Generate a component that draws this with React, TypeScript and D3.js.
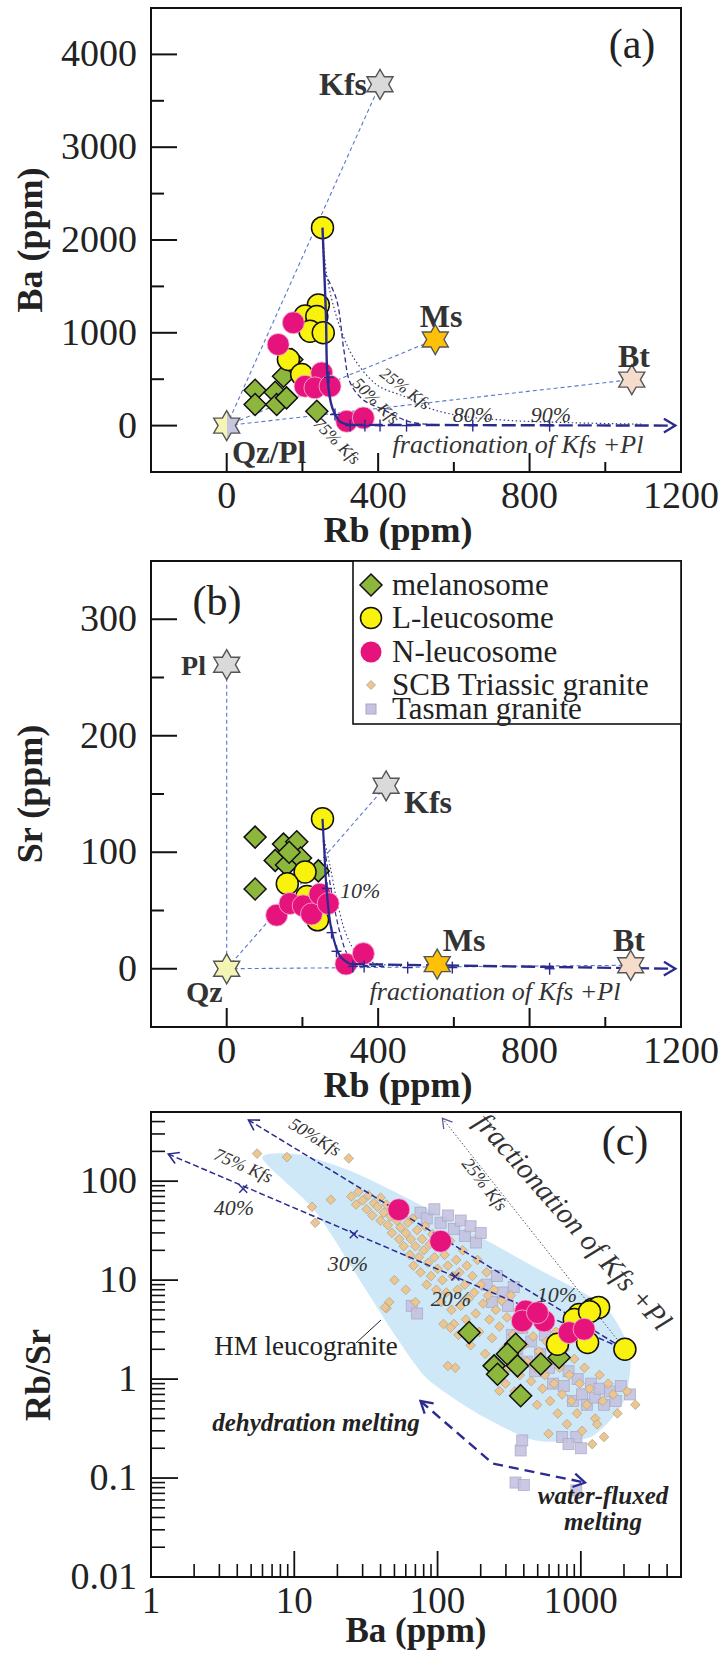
import React from "react";
import * as d3 from "d3";

type P = [number, number];

const W = 724;
const H = 1653;
const LEFT = 151;
const RIGHT = 681;
const NAVY = "#2b2b8f";
const THIN = "#5a78c8";
const SERIF = '"Liberation Serif", "DejaVu Serif", "Times New Roman", Times, serif';

// ---- shared Rb axis (panels a, b)
const rbDomain = [-200, 1200];
const rbMajor = [0, 400, 800, 1200];
const rbMinor = [200, 600, 1000];

// ---- panel (a): Ba vs Rb
const baDomain = [-500, 4500];
const baMajor = [0, 1000, 2000, 3000, 4000];
const baMinor = [500, 1500, 2500, 3500];
const aMelanosome: P[] = [[75, 381], [75, 227], [128, 359], [132, 227], [150, 532], [158, 299], [172, 712], [238, 154]];
const aLLeucosome: P[] = [[253, 2133], [242, 1300], [207, 1180], [238, 1175], [220, 1017], [255, 1000], [163, 712], [198, 550]];
const aNLeucosome: P[] = [[176, 1108], [136, 874], [251, 568], [207, 424], [233, 407], [273, 424], [317, 46], [361, 83]];
const aKfs: P = [405, 3678];
const aMs: P = [551, 928];
const aBt: P = [1070, 496];
const aQzPl: P = [0, 0];
const aTrend: P[] = [[253, 2133], [262, 1200], [266, 530], [275, 250], [284, 140], [300, 40], [325, 8]];
const aTrendTail: P[] = [[325, 8], [1185, 0]];
const aCurve50: P[] = [[258, 1650], [290, 1360], [310, 800], [326, 464], [360, 280], [413, 173], [484, 40], [560, 10]];
const aCurve25: P[] = [[253, 2133], [265, 1600], [300, 1050], [340, 700], [400, 430], [468, 316], [540, 180], [627, 100], [750, 55], [920, 30], [1100, 15]];
const aPlus: P[] = [[270, 520], [286, 119], [326, 0], [365, 0], [405, 0], [475, 0], [650, 0], [853, 0]];

// ---- panel (b): Sr vs Rb
const srDomain = [-50, 350];
const srMajor = [0, 100, 200, 300];
const srMinor = [50, 150, 250];
const bMelanosome: P[] = [[75, 113], [75, 68.5], [128, 93], [150, 107], [185, 109], [158, 89], [195, 95], [242, 84], [165, 100]];
const bLLeucosome: P[] = [[253, 128.7], [207, 83], [160, 73], [212, 62], [240, 42]];
const bNLeucosome: P[] = [[132, 46], [167, 56], [202, 54], [224, 47], [246, 64], [268, 56], [315, 4], [361, 13]];
const bPl: P = [0, 261];
const bKfs: P = [421, 157];
const bMs: P = [556, 4];
const bBt: P = [1067, 3];
const bQz: P = [0, 0];
const bTrend: P[] = [[253, 128.7], [258, 100], [264, 67], [277, 33], [299, 11], [326, 4]];
const bTrendTail: P[] = [[326, 4], [1185, 0]];
const bCurve50: P[] = [[255, 110], [265, 90], [280, 60], [300, 30], [320, 12], [350, 4], [420, 2]];
const bCurve25: P[] = [[258, 110], [272, 90], [290, 60], [315, 30], [340, 15], [380, 6], [460, 2]];
const bPlus: P[] = [[265, 69], [277, 31], [290, 15], [333, 2], [363, 2], [478, 1], [596, 1], [853, 0]];

// ---- panel (c): Rb/Sr vs Ba (log-log)
const cBaDomain = [1, 5000];
const cRatioDomain = [0.01, 500];
const cXMajor = [1, 10, 100, 1000];
const cYMajor = [0.01, 0.1, 1, 10, 100];
const cXLabels = ["1", "10", "100", "1000"];
const cYLabels = ["0.01", "0.1", "1", "10", "100"];
const cMelanosome: P[] = [[166, 2.95], [351, 2.25], [307, 1.79], [248, 1.36], [262, 1.12], [361, 1.36], [525, 1.42], [705, 1.65], [380, 0.68]];
const cLLeucosome: P[] = [[2030, 2.0], [973, 4.5], [1207, 5.07], [1330, 5.3], [687, 2.25], [1114, 2.34], [900, 4.0], [1150, 4.8]];
const cNLeucosome: P[] = [[53.6, 51.5], [105, 24.7], [412, 4.87], [390, 3.87], [554, 3.87], [498, 4.69], [828, 2.95], [1054, 3.19]];
const cBand: P[] = [[5.97, 170], [11, 185], [29, 115], [123, 40], [500, 13], [1450, 5.5], [2200, 1.9], [2000, 0.6], [1175, 0.26], [480, 0.24], [190, 0.45], [85, 1.0], [52, 2.6], [30, 9], [14, 50]];
const cOrigin: P = [2030, 2.0];
const c75Start: P = [1.32, 188];
const c50Start: P = [4.79, 415];
const c25Start: P = [108, 432];
const c75Marks: P[] = [[4.4, 84], [26, 29], [133, 10.9], [525, 4.6]];
const cMeltArrow: P[] = [[76, 0.6], [243, 0.14], [1070, 0.09]];
const cScb: P[] = [
  [5.5, 190], [8.9, 175], [24, 170], [13.3, 55], [18, 65], [14, 38], [46, 6], [44, 5.2],
  [25, 70], [27, 58], [28, 78], [30, 64], [32, 52], [33, 72], [35, 45], [36, 60], [38, 55], [40, 68], [40, 40], [42, 48],
  [44, 58], [45, 36], [47, 44], [48, 30], [50, 52], [52, 40], [54, 26], [55, 34], [57, 46], [58, 22], [60, 30], [62, 38], [64, 18], [65, 26], [67, 42], [68, 14], [70, 22],
  [72, 32], [74, 17], [76, 12], [78, 26], [80, 20], [82, 35], [84, 9], [86, 15], [88, 23], [90, 11], [92, 29], [95, 17], [98, 8], [100, 13], [103, 22], [106, 6], [108, 10], [112, 18], [115, 7.5], [118, 14], [122, 25], [125, 5], [128, 11], [130, 3.6],
  [135, 16], [138, 8], [140, 2.8], [142, 12], [145, 5.5], [150, 20], [155, 9], [158, 4], [160, 14], [165, 6.5], [170, 2.2], [175, 11], [180, 7.5], [185, 4.6], [190, 16], [195, 3], [200, 9], [208, 5.8], [215, 1.8], [220, 12], [225, 7], [230, 4], [240, 2.6], [248, 8], [255, 5], [262, 1.4], [270, 3.4], [280, 6.2], [290, 2], [298, 0.9],
  [305, 4.2], [315, 1.3], [325, 7], [335, 2.8], [345, 0.75], [355, 1.8], [365, 5], [375, 1.1], [385, 3.2], [400, 2.2], [410, 0.65], [420, 1.5], [435, 4], [450, 0.95], [465, 2.7], [480, 1.3], [495, 0.55], [510, 1.9], [525, 3.5], [540, 0.8], [560, 1.1], [575, 2.4], [595, 0.28], [610, 0.6], [630, 1.6], [650, 0.9], [670, 3], [690, 0.45],
  [710, 1.3], [740, 0.7], [770, 2], [800, 0.35], [830, 1.1], [860, 0.6], [900, 1.6], [940, 0.45], [980, 0.9], [1020, 0.3], [1060, 1.3], [1100, 0.55], [1150, 0.8], [1200, 0.22], [1260, 0.4], [1300, 0.35], [1350, 1.1], [1420, 0.6], [1450, 0.26], [1550, 0.9], [1680, 0.7], [1800, 0.45], [2100, 0.75], [2400, 0.55],
  [43, 5.3], [123, 3.3], [133, 1.3], [270, 0.76], [118, 1.36], [110, 3.6], [60, 8], [50, 10], [70, 6],
];
const cTasman: P[] = [
  [76, 48], [84, 42], [95, 52], [105, 38], [118, 45], [130, 33], [145, 40], [155, 28], [170, 35], [185, 24], [200, 30], [66, 5.5], [72, 4.6],
  [220, 9], [240, 6], [260, 11], [285, 7.5], [310, 5.5], [340, 8.5], [330, 2.8], [360, 2], [390, 3.3], [420, 1.5], [450, 2.4], [480, 1.2], [520, 1.8], [560, 2.8],
  [600, 1.3], [640, 0.9], [700, 1.6], [760, 0.85], [820, 1.2], [880, 0.6], [950, 1.0], [1020, 0.7], [1100, 0.55], [1180, 0.9], [1250, 0.65], [1350, 0.8], [1450, 0.55], [1600, 0.75], [1750, 0.6], [1900, 0.85], [2200, 0.7],
  [380, 0.19], [390, 0.24], [740, 0.26], [930, 0.26], [350, 0.09], [400, 0.085], [930, 0.075], [820, 0.22], [1000, 0.2],
];

// ---- legend
const legendItems = ["melanosome", "L-leucosome", "N-leucosome", "SCB Triassic granite", "Tasman granite"];
const legendRows = [585, 618, 652, 685, 709];

function hexagram(cx: number, cy: number, R: number) {
  const r = R / Math.sqrt(3);
  const pts: string[] = [];
  for (let i = 0; i < 12; i++) {
    const a = ((-90 + i * 30) * Math.PI) / 180;
    const rad = i % 2 === 0 ? R : r;
    pts.push(`${(cx + rad * Math.cos(a)).toFixed(1)},${(cy + rad * Math.sin(a)).toFixed(1)}`);
  }
  return pts.join(" ");
}

const Diamond = ({ x, y, s, fill, stroke, sw = 1.5 }: any) => (
  <polygon points={`${x},${y - s} ${x + s},${y} ${x},${y + s} ${x - s},${y}`} fill={fill} stroke={stroke} strokeWidth={sw} />
);

const Star = ({ x, y, fill, R = 15 }: any) => (
  <polygon points={hexagram(x, y, R)} fill={fill} stroke="#555" strokeWidth={1.4} />
);

const Plus = ({ x, y }: any) => (
  <g stroke={NAVY} strokeWidth={1.4}>
    <line x1={x - 5} x2={x + 5} y1={y} y2={y} />
    <line x1={x} x2={x} y1={y - 6} y2={y + 6} />
  </g>
);

function Samples({ x, y, mel, L, N }: any) {
  return (
    <g>
      {mel.map((d: P, i: number) => (
        <Diamond key={"m" + i} x={x(d[0])} y={y(d[1])} s={11} fill="#8db63c" stroke="#111" />
      ))}
      {L.map((d: P, i: number) => (
        <circle key={"l" + i} cx={x(d[0])} cy={y(d[1])} r={11} fill="#f8f20c" stroke="#111" strokeWidth={1.5} />
      ))}
      {N.map((d: P, i: number) => (
        <circle key={"n" + i} cx={x(d[0])} cy={y(d[1])} r={11} fill="#e6137d" stroke="#f7b8d8" strokeWidth={0.8} />
      ))}
    </g>
  );
}

function LinearFrame({ x, y, top, bottom, yMajor, yMinor, yTitle, xTitle }: any) {
  return (
    <g>
      <rect x={LEFT} y={top} width={RIGHT - LEFT} height={bottom - top} fill="none" stroke="#111" strokeWidth={2} />
      {rbMajor.map((v) => (
        <line key={"xM" + v} x1={x(v)} x2={x(v)} y1={bottom} y2={bottom - 19} stroke="#111" strokeWidth={2} />
      ))}
      {rbMinor.map((v) => (
        <line key={"xm" + v} x1={x(v)} x2={x(v)} y1={bottom} y2={bottom - 10} stroke="#111" strokeWidth={2} />
      ))}
      {yMajor.map((v: number) => (
        <line key={"yM" + v} x1={LEFT} x2={LEFT + 26} y1={y(v)} y2={y(v)} stroke="#111" strokeWidth={2} />
      ))}
      {yMinor.map((v: number) => (
        <line key={"ym" + v} x1={LEFT} x2={LEFT + 13} y1={y(v)} y2={y(v)} stroke="#111" strokeWidth={2} />
      ))}
      {rbMajor.map((v) => (
        <text key={"xl" + v} x={x(v)} y={bottom + 36} textAnchor="middle" fontSize={38} fill="#222">
          {v}
        </text>
      ))}
      {yMajor.map((v: number) => (
        <text key={"yl" + v} x={137} y={y(v) + 12} textAnchor="end" fontSize={38} fill="#222">
          {v}
        </text>
      ))}
      <text x={398} y={bottom + 70} textAnchor="middle" fontSize={36} fontWeight="bold" fill="#222">
        {xTitle}
      </text>
      <text transform={`translate(42,${(top + bottom) / 2}) rotate(-90)`} textAnchor="middle" fontSize={36} fontWeight="bold" fill="#222">
        {yTitle}
      </text>
    </g>
  );
}

export default function App() {
  const xRb = d3.scaleLinear().domain(rbDomain).range([LEFT, RIGHT]);
  const yA = d3.scaleLinear().domain(baDomain).range([472, 8]);
  const yB = d3.scaleLinear().domain(srDomain).range([1027, 561]);
  const xC = d3.scaleLog().domain(cBaDomain).range([LEFT, RIGHT]);
  const yC = d3.scaleLog().domain(cRatioDomain).range([1577, 1112]);

  const curveA = d3.line<P>().x((d) => xRb(d[0])).y((d) => yA(d[1])).curve(d3.curveCatmullRom);
  const straightA = d3.line<P>().x((d) => xRb(d[0])).y((d) => yA(d[1]));
  const curveB = d3.line<P>().x((d) => xRb(d[0])).y((d) => yB(d[1])).curve(d3.curveCatmullRom);
  const straightB = d3.line<P>().x((d) => xRb(d[0])).y((d) => yB(d[1]));
  const lineC = d3.line<P>().x((d) => xC(d[0])).y((d) => yC(d[1]));
  const bandC = d3.line<P>().x((d) => xC(d[0])).y((d) => yC(d[1])).curve(d3.curveCardinalClosed.tension(0.3));

  const cXMinor: number[] = [];
  [1, 10, 100, 1000].forEach((dec) => [2, 3, 4, 5, 6, 7, 8, 9].forEach((m) => dec * m < 5000 && cXMinor.push(dec * m)));
  const cYMinor: number[] = [];
  [0.01, 0.1, 1, 10, 100].forEach((dec) => [2, 3, 4, 5, 6, 7, 8, 9].forEach((m) => dec * m < 500 && cYMinor.push(dec * m)));

  const qA: P = [xRb(aQzPl[0]), yA(aQzPl[1])];
  const qB: P = [xRb(bQz[0]), yB(bQz[1])];

  return (
    <svg width={W} height={H} fontFamily={SERIF} style={{ position: "absolute", left: 0, top: 0, background: "#fff", fontFamily: SERIF }}>
      <style>{`text { font-family: "Liberation Serif", "DejaVu Serif", "Times New Roman", serif; }`}</style>
      <defs>
        <marker id="chev" viewBox="0 0 14 14" refX="12" refY="7" markerWidth="16" markerHeight="16" markerUnits="userSpaceOnUse" orient="auto-start-reverse">
          <path d="M2,1 L12,7 L2,13" fill="none" stroke={NAVY} strokeWidth={2} />
        </marker>
        <marker id="chevThin" viewBox="0 0 14 14" refX="12" refY="7" markerWidth="14" markerHeight="14" markerUnits="userSpaceOnUse" orient="auto-start-reverse">
          <path d="M2,1 L12,7 L2,13" fill="none" stroke={NAVY} strokeWidth={1.6} />
        </marker>
        <marker id="chevGray" viewBox="0 0 14 14" refX="12" refY="7" markerWidth="13" markerHeight="13" markerUnits="userSpaceOnUse" orient="auto-start-reverse">
          <path d="M2,1 L12,7 L2,13" fill="none" stroke="#5a5aa0" strokeWidth={1.4} />
        </marker>
        <linearGradient id="qzpl" x1="0" x2="1" y1="0" y2="0">
          <stop offset="0.5" stopColor="#f4f4b4" />
          <stop offset="0.5" stopColor="#c6c6df" />
        </linearGradient>
      </defs>
      <rect width={W} height={H} fill="#fff" />

      {/* ============ panel (a) ============ */}
      <g>
        {[aKfs, aMs, aBt].map((m, i) => (
          <line key={i} x1={qA[0]} y1={qA[1]} x2={xRb(m[0])} y2={yA(m[1])} stroke={THIN} strokeWidth={1.1} strokeDasharray="4,3" />
        ))}
        <path d={curveA(aCurve25) || ""} fill="none" stroke="#3a3a80" strokeWidth={1.2} strokeDasharray="1.5,2.5" />
        <path d={curveA(aCurve50) || ""} fill="none" stroke={NAVY} strokeWidth={1.3} strokeDasharray="5,3" />
        <Samples x={xRb} y={yA} mel={aMelanosome} L={aLLeucosome} N={aNLeucosome} />
        <path d={curveA(aTrend) || ""} fill="none" stroke={NAVY} strokeWidth={2.4} />
        <path d={straightA(aTrendTail) || ""} fill="none" stroke={NAVY} strokeWidth={2.4} strokeDasharray="14,5" markerEnd="url(#chev)" />
        {aPlus.map((d, i) => (
          <Plus key={i} x={xRb(d[0])} y={yA(d[1])} />
        ))}
        <Star x={xRb(aKfs[0])} y={yA(aKfs[1])} fill="#dadada" />
        <Star x={xRb(aMs[0])} y={yA(aMs[1])} fill="#ffc107" />
        <Star x={xRb(aBt[0])} y={yA(aBt[1])} fill="#f6dccb" />
        <Star x={qA[0]} y={qA[1]} fill="url(#qzpl)" />
        <text x={367} y={95} textAnchor="end" fontSize={32} fontWeight="bold" fill="#333">Kfs</text>
        <text x={441} y={327} textAnchor="middle" fontSize={32} fontWeight="bold" fill="#333">Ms</text>
        <text x={634} y={367} textAnchor="middle" fontSize={32} fontWeight="bold" fill="#333">Bt</text>
        <text x={232} y={463} fontSize={31} fontWeight="bold" fill="#333">Qz/Pl</text>
        <g fontStyle="italic" fill="#333" fontSize={17}>
          <text transform="translate(402,393) rotate(37)" textAnchor="middle">25% Kfs</text>
          <text transform="translate(372,405) rotate(45)" textAnchor="middle">50% Kfs</text>
          <text transform="translate(333,445) rotate(45)" textAnchor="middle">75% Kfs</text>
        </g>
        <text x={473} y={422} textAnchor="middle" fontSize={22} fontStyle="italic" fill="#333">80%</text>
        <text x={551} y={422} textAnchor="middle" fontSize={22} fontStyle="italic" fill="#333">90%</text>
        <text x={518} y={453} textAnchor="middle" fontSize={26} fontStyle="italic" fill="#333">fractionation of Kfs +Pl</text>
        <text x={632} y={58} textAnchor="middle" fontSize={42} fill="#222">(a)</text>
        <LinearFrame x={xRb} y={yA} top={8} bottom={472} yMajor={baMajor} yMinor={baMinor} yTitle="Ba (ppm)" xTitle="Rb (ppm)" />
      </g>

      {/* ============ panel (b) ============ */}
      <g>
        {[bPl, bKfs, bBt].map((m, i) => (
          <line key={i} x1={qB[0]} y1={qB[1]} x2={xRb(m[0])} y2={yB(m[1])} stroke={THIN} strokeWidth={1.1} strokeDasharray="4,3" />
        ))}
        <path d={curveB(bCurve25) || ""} fill="none" stroke="#3a3a80" strokeWidth={1.1} strokeDasharray="1.5,2.5" />
        <path d={curveB(bCurve50) || ""} fill="none" stroke={NAVY} strokeWidth={1.2} strokeDasharray="5,3" />
        <Samples x={xRb} y={yB} mel={bMelanosome} L={bLLeucosome} N={bNLeucosome} />
        <path d={curveB(bTrend) || ""} fill="none" stroke={NAVY} strokeWidth={2.2} />
        <path d={straightB(bTrendTail) || ""} fill="none" stroke={NAVY} strokeWidth={2.4} strokeDasharray="14,5" markerEnd="url(#chev)" />
        {bPlus.map((d, i) => (
          <Plus key={i} x={xRb(d[0])} y={yB(d[1])} />
        ))}
        <Star x={xRb(bPl[0])} y={yB(bPl[1])} fill="#dadada" />
        <Star x={xRb(bKfs[0])} y={yB(bKfs[1])} fill="#dadada" />
        <Star x={xRb(bMs[0])} y={yB(bMs[1])} fill="#ffc107" />
        <Star x={xRb(bBt[0])} y={yB(bBt[1])} fill="#f6dccb" />
        <Star x={qB[0]} y={qB[1]} fill="#f4f4b4" />
        <text x={206} y={675} textAnchor="end" fontSize={28} fontWeight="bold" fill="#333">Pl</text>
        <text x={404} y={813} fontSize={32} fontWeight="bold" fill="#333">Kfs</text>
        <text x={464} y={951} textAnchor="middle" fontSize={32} fontWeight="bold" fill="#333">Ms</text>
        <text x={629} y={951} textAnchor="middle" fontSize={32} fontWeight="bold" fill="#333">Bt</text>
        <text x={186} y={1002} fontSize={30} fontWeight="bold" fill="#333">Qz</text>
        <text x={340} y={898} fontSize={22} fontStyle="italic" fill="#333">10%</text>
        <text x={495} y={1000} textAnchor="middle" fontSize={26} fontStyle="italic" fill="#333">fractionation of Kfs +Pl</text>
        <text x={217} y={615} textAnchor="middle" fontSize={42} fill="#222">(b)</text>
        <LinearFrame x={xRb} y={yB} top={561} bottom={1027} yMajor={srMajor} yMinor={srMinor} yTitle="Sr (ppm)" xTitle="Rb (ppm)" />
        {/* legend */}
        <rect x={353} y={561} width={RIGHT - 353} height={163} fill="#fff" stroke="#111" strokeWidth={1.6} />
        {legendItems.map((t, i) => {
          const ly = legendRows[i];
          return (
            <g key={t}>
              {i === 0 && <Diamond x={371} y={ly} s={11} fill="#8db63c" stroke="#111" />}
              {i === 1 && <circle cx={371} cy={ly} r={10.5} fill="#f8f20c" stroke="#111" strokeWidth={1.5} />}
              {i === 2 && <circle cx={371} cy={ly} r={10.5} fill="#e6137d" />}
              {i === 3 && <Diamond x={371} y={ly} s={4.5} fill="#eec58f" stroke="#a8a890" sw={0.8} />}
              {i === 4 && <rect x={366} y={ly - 5} width={10} height={10} fill="#c5c3df" stroke="#a8a6c6" />}
              <text x={392} y={ly + 10} fontSize={31} fill="#222">{t}</text>
            </g>
          );
        })}
      </g>

      {/* ============ panel (c) ============ */}
      <g>
        <path d={bandC(cBand) || ""} fill="#cfe8f8" stroke="none" />
        {cTasman.map((d, i) => (
          <rect key={"t" + i} x={xC(d[0]) - 5.5} y={yC(d[1]) - 5.5} width={11} height={11} fill="#c5c3df" stroke="#a8a6c6" strokeWidth={0.8} opacity={0.9} />
        ))}
        {cScb.map((d, i) => (
          <Diamond key={"s" + i} x={xC(d[0])} y={yC(d[1])} s={4.8} fill="#eec58f" stroke="#a8a890" sw={0.8} />
        ))}
        <path d={lineC([c75Start, cOrigin]) || ""} fill="none" stroke={NAVY} strokeWidth={1.5} strokeDasharray="6,3" markerStart="url(#chevThin)" />
        <path d={lineC([c50Start, cOrigin]) || ""} fill="none" stroke={NAVY} strokeWidth={1.5} strokeDasharray="6,3" markerStart="url(#chevThin)" />
        <path d={lineC([c25Start, cOrigin]) || ""} fill="none" stroke="#555" strokeWidth={1} strokeDasharray="1.5,2" markerStart="url(#chevGray)" />
        {c75Marks.map((d, i) => (
          <g key={i} stroke={NAVY} strokeWidth={1.4}>
            <line x1={xC(d[0]) - 4} x2={xC(d[0]) + 4} y1={yC(d[1]) - 4} y2={yC(d[1]) + 4} />
            <line x1={xC(d[0]) - 4} x2={xC(d[0]) + 4} y1={yC(d[1]) + 4} y2={yC(d[1]) - 4} />
          </g>
        ))}
        <Samples x={xC} y={yC} mel={cMelanosome} L={cLLeucosome} N={cNLeucosome} />
        <path d={lineC(cMeltArrow) || ""} fill="none" stroke={NAVY} strokeWidth={2.4} strokeDasharray="10,6" markerStart="url(#chev)" markerEnd="url(#chev)" />
        <g fontStyle="italic" fill="#333">
          <text transform="translate(241,1171) rotate(23.3)" textAnchor="middle" fontSize={18}>75% Kfs</text>
          <text transform="translate(312,1142) rotate(31.4)" textAnchor="middle" fontSize={18}>50%Kfs</text>
          <text transform="translate(480,1188) rotate(52)" textAnchor="middle" fontSize={18}>25% Kfs</text>
          <text transform="translate(566,1228) rotate(48.4)" textAnchor="middle" fontSize={29}>fractionation of Kfs +Pl</text>
          <text x={234} y={1215} textAnchor="middle" fontSize={22}>40%</text>
          <text x={348} y={1271} textAnchor="middle" fontSize={22}>30%</text>
          <text x={451} y={1306} textAnchor="middle" fontSize={22}>20%</text>
          <text x={557} y={1302} textAnchor="middle" fontSize={22}>10%</text>
        </g>
        <text x={306} y={1355} textAnchor="middle" fontSize={27} fill="#222">HM leucogranite</text>
        <line x1={356} y1={1343} x2={381} y2={1320} stroke="#222" strokeWidth={1} />
        <g fontStyle="italic" fontWeight="bold" fill="#222" fontSize={25} textAnchor="middle">
          <text x={316} y={1431}>dehydration melting</text>
          <text x={603} y={1504}>water-fluxed</text>
          <text x={603} y={1530}>melting</text>
        </g>
        <text x={625} y={1155} textAnchor="middle" fontSize={42} fill="#222">(c)</text>
        {/* frame */}
        <rect x={LEFT} y={1112} width={RIGHT - LEFT} height={465} fill="none" stroke="#111" strokeWidth={2} />
        {cXMajor.map((v) => (
          <line key={"cxM" + v} x1={xC(v)} x2={xC(v)} y1={1577} y2={1551} stroke="#111" strokeWidth={1.8} />
        ))}
        {cXMinor.map((v) => (
          <line key={"cxm" + v} x1={xC(v)} x2={xC(v)} y1={1577} y2={1564} stroke="#111" strokeWidth={1.6} />
        ))}
        {cYMajor.map((v) => (
          <line key={"cyM" + v} x1={LEFT} x2={LEFT + 27} y1={yC(v)} y2={yC(v)} stroke="#111" strokeWidth={1.8} />
        ))}
        {cYMinor.map((v) => (
          <line key={"cym" + v} x1={LEFT} x2={LEFT + 14} y1={yC(v)} y2={yC(v)} stroke="#111" strokeWidth={1.6} />
        ))}
        {cXMajor.map((v, i) => (
          <text key={"cxl" + v} x={xC(v)} y={1613} textAnchor="middle" fontSize={37} fill="#222">{cXLabels[i]}</text>
        ))}
        {cYMajor.map((v, i) => (
          <text key={"cyl" + v} x={137} y={yC(v) + 12} textAnchor="end" fontSize={38} fill="#222">{cYLabels[i]}</text>
        ))}
        <text x={416} y={1642} textAnchor="middle" fontSize={35} fontWeight="bold" fill="#222">Ba (ppm)</text>
        <text transform="translate(50,1375) rotate(-90)" textAnchor="middle" fontSize={36} fontWeight="bold" fill="#222">Rb/Sr</text>
      </g>
    </svg>
  );
}
